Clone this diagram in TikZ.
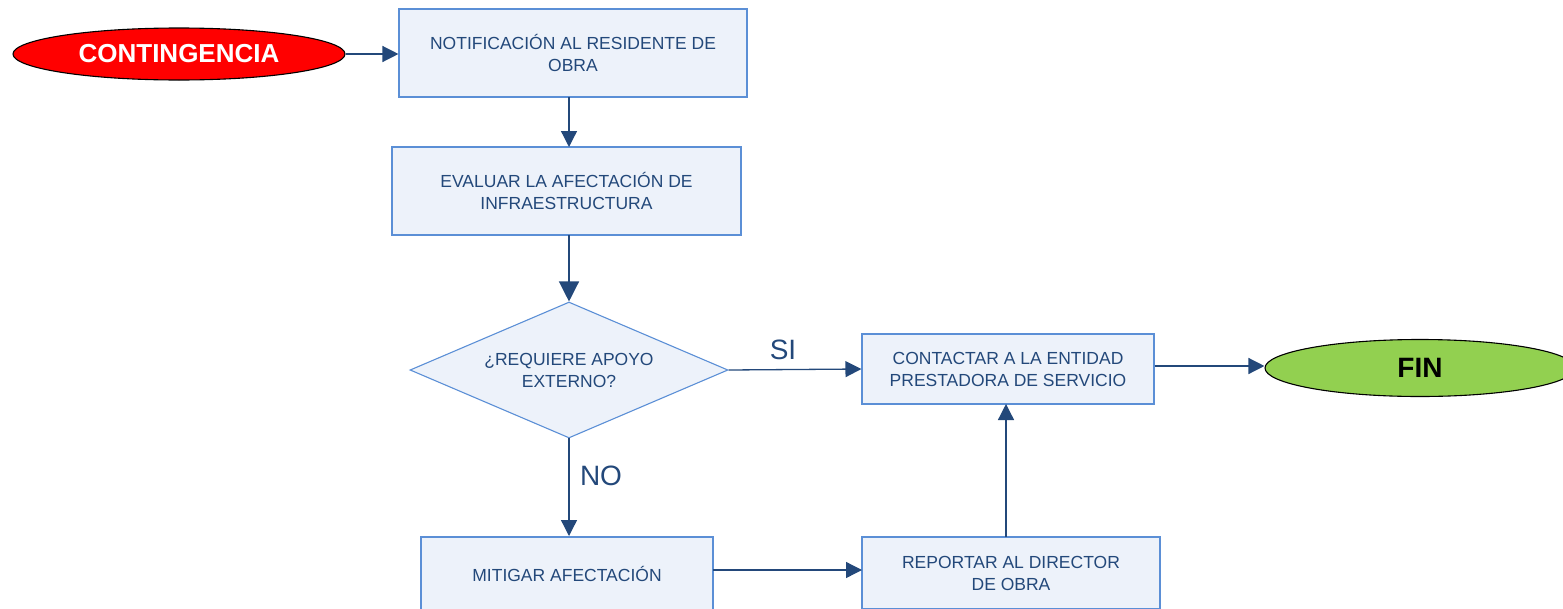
\documentclass[tikz,border=0pt]{standalone}
\usepackage{fontspec}
\setmainfont{Liberation Sans}
\usetikzlibrary{shapes.geometric,arrows.meta}
\definecolor{arrowc}{HTML}{23487A}
\definecolor{boxline}{HTML}{5B8FD6}
\definecolor{boxfill}{HTML}{EDF2FA}
\definecolor{txtc}{HTML}{23487A}
\definecolor{redc}{HTML}{FF0000}
\definecolor{greenc}{HTML}{92D050}
\tikzset{
  x=1pt,y=-1pt,
  procbox/.style={draw=boxline,fill=boxfill,line width=1.1pt,rectangle,inner sep=0pt,align=center,text=txtc,font=\fontsize{17.5}{22}\selectfont},
  decbox/.style={draw=boxline,fill=boxfill,line width=1.1pt,diamond,inner sep=0pt,align=center,text=txtc,font=\fontsize{17.5}{22}\selectfont},
  term/.style={draw=black,line width=1.1pt,ellipse,inner sep=0pt,font=\bfseries},
  conn/.style={draw=arrowc,line width=1.3pt,-{Triangle[length=16pt,width=16pt]}},
  bigconn/.style={draw=arrowc,line width=1.3pt,-{Triangle[length=20pt,width=20pt]}},
  lbl/.style={text=txtc,font=\fontsize{28}{32}\selectfont,inner sep=0pt}
}
\begin{document}
\begin{tikzpicture}
\useasboundingbox (0,0) rectangle (1563,608);
\begin{scope}
\clip (0,0) rectangle (1563,608);
\node[term,fill=redc,text=white,minimum width=332pt,minimum height=52pt,font=\fontsize{26}{30}\selectfont\bfseries] (start) at (179,54) {CONTINGENCIA};
\node[procbox,minimum width=348pt,minimum height=88pt] (n1) at (573,53) {NOTIFICACIÓN AL RESIDENTE DE\\OBRA};
\node[procbox,minimum width=349pt,minimum height=88pt] (n2) at (566.5,191) {EVALUAR LA AFECTACIÓN DE\\INFRAESTRUCTURA};
\node[decbox,minimum width=318pt,minimum height=136pt,aspect=2.34] (d) at (569,370) {¿REQUIERE APOYO\\EXTERNO?};
\node[procbox,minimum width=292pt,minimum height=70pt] (n3) at (1008,369) {CONTACTAR A LA ENTIDAD\\PRESTADORA DE SERVICIO};
\node[term,fill=greenc,text=black,minimum width=310pt,minimum height=57pt,font=\fontsize{28}{32}\selectfont\bfseries] (fin) at (1420,368) {FIN};
\node[procbox,minimum width=292pt,minimum height=74pt] (n4) at (567,574) {MITIGAR AFECTACIÓN};
\node[procbox,minimum width=298pt,minimum height=72pt] (n5) at (1011,573) {REPORTAR AL DIRECTOR\\DE OBRA};
\node[lbl] (si) at (783,350) {SI};
\node[lbl] (no) at (601,476) {NO};
\coordinate (a1) at (569,97);
\coordinate (b1) at (569,147);
\coordinate (a2) at (569,235);
\coordinate (a3) at (569,438);
\coordinate (b3) at (569,536);
\coordinate (a4) at (713,570);
\coordinate (b4) at (862,570);
\coordinate (a5) at (1006,537);
\coordinate (b5) at (1006,404);
\draw[conn] (start.east) -- (n1.west |- start.east);
\draw[conn] (a1) -- (b1);
\draw[bigconn] (a2) -- (d.north);
\draw[conn] (d.east) -- (n3.west);
\draw[conn] (n3.east |- 0,366) -- (fin.west |- 0,366);
\draw[conn] (a3) -- (b3);
\draw[conn] (a4) -- (b4);
\draw[conn] (a5) -- (b5);
\end{scope}
\end{tikzpicture}
\end{document}
